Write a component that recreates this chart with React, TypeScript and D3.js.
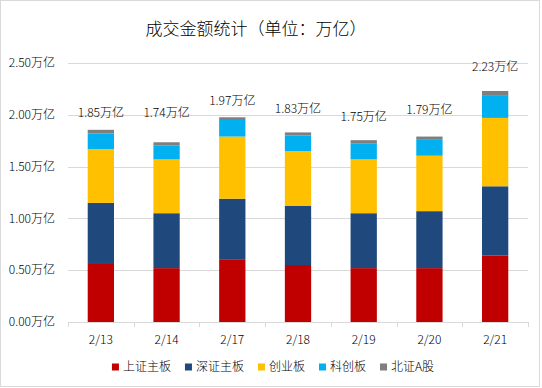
// @ts-nocheck
import React, { useRef, useEffect } from 'react';
import * as d3 from 'd3';

const dates = ["2/13", "2/14", "2/17", "2/18", "2/19", "2/20", "2/21"];
const seriesNames = ["上证主板", "深证主板", "创业板", "科创板", "北证A股"];
const shMain = [0.56, 0.52, 0.60, 0.55, 0.52, 0.52, 0.64];
const szMain = [0.59, 0.53, 0.59, 0.57, 0.53, 0.55, 0.67];
const chinext = [0.52, 0.52, 0.60, 0.53, 0.52, 0.535, 0.66];
const star = [0.15, 0.135, 0.16, 0.15, 0.155, 0.16, 0.22];
const bse = [0.035, 0.03, 0.026, 0.03, 0.03, 0.025, 0.04];
const totals = ["1.85", "1.74", "1.97", "1.83", "1.75", "1.79", "2.23"];
const yTicks = [0, 0.5, 1.0, 1.5, 2.0, 2.5];

// how far each total label sits above its bar (px), labels were hand placed
const labelLift = [17, 29, 16, 24, 23, 27, 24];

const colors = ["#C00000", "#1F497D", "#FFC000", "#00B0F0", "#7F7F7F"];
const FONT = '"Noto Sans CJK SC", "Noto Sans", sans-serif';

export default function App() {
    const svgRef = useRef(null);

    useEffect(() => {
        const W = 542, H = 388;
        const margin = { top: 63, right: 14, bottom: 66, left: 68 };
        const width = W - margin.left - margin.right;
        const height = H - margin.top - margin.bottom;

        const root = d3.select(svgRef.current)
            .attr('width', W)
            .attr('height', H);

        root.append('rect')
            .attr('x', 0.5).attr('y', 0.5)
            .attr('width', 539).attr('height', 386)
            .attr('fill', '#fff')
            .attr('stroke', '#D9D9D9');

        root.append('text')
            .attr('x', 256).attr('y', 29)
            .attr('dy', '0.35em')
            .attr('text-anchor', 'middle')
            .style('font-family', FONT)
            .style('font-size', '17px')
            .style('font-weight', 300)
            .attr('fill', '#000')
            .text('成交金额统计（单位：万亿）');

        const svg = root.append('g')
            .attr('transform', `translate(${margin.left},${margin.top})`);

        const x = d3.scaleBand().domain(dates).range([0, width]).paddingInner(0.6).paddingOuter(0.3);
        const xOuter = d3.scaleBand().domain(dates).range([0, width]);
        const y = d3.scaleLinear().domain([0, 2.5]).range([height, 0]);

        // gridlines
        svg.selectAll('.grid')
            .data(yTicks.slice(1))
            .enter().append('line')
            .attr('x1', 0).attr('x2', width)
            .attr('y1', d => Math.round(y(d)) + 0.5)
            .attr('y2', d => Math.round(y(d)) + 0.5)
            .attr('stroke', '#D9D9D9');

        // y labels
        svg.selectAll('.ylab')
            .data(yTicks)
            .enter().append('text')
            .attr('x', -13)
            .attr('y', d => y(d))
            .attr('dy', '0.35em')
            .attr('text-anchor', 'end')
            .style('font-family', FONT)
            .style('font-size', '12px')
            .style('font-weight', 300)
            .attr('fill', '#000')
            .text(d => d.toFixed(2) + '万亿');

        // stacked bars
        const rows = dates.map((d, i) => ({
            date: d, s0: shMain[i], s1: szMain[i], s2: chinext[i], s3: star[i], s4: bse[i]
        }));
        const stack = d3.stack().keys(["s0", "s1", "s2", "s3", "s4"]);
        const layers = stack(rows);

        svg.selectAll('.layer')
            .data(layers)
            .enter().append('g')
            .attr('fill', (d, i) => colors[i])
            .selectAll('rect')
            .data(d => d)
            .enter().append('rect')
            .attr('x', d => x(d.data.date))
            .attr('width', x.bandwidth())
            .attr('y', d => y(d[1]))
            .attr('height', d => y(d[0]) - y(d[1]));

        // axis line + ticks
        svg.append('line')
            .attr('x1', 0).attr('x2', width)
            .attr('y1', height + 0.5).attr('y2', height + 0.5)
            .attr('stroke', '#D9D9D9');
        svg.selectAll('.tick')
            .data(dates.concat(['end']))
            .enter().append('line')
            .attr('x1', (d, i) => Math.round(i * xOuter.step()) + 0.5)
            .attr('x2', (d, i) => Math.round(i * xOuter.step()) + 0.5)
            .attr('y1', height).attr('y2', height + 5)
            .attr('stroke', '#D9D9D9');

        // x labels
        svg.selectAll('.xlab')
            .data(dates)
            .enter().append('text')
            .attr('x', d => xOuter(d) + xOuter.bandwidth() / 2)
            .attr('y', height + 18)
            .attr('dy', '0.35em')
            .attr('text-anchor', 'middle')
            .style('font-family', FONT)
            .style('font-size', '12px')
            .style('font-weight', 300)
            .attr('fill', '#000')
            .text(d => d);

        // total labels
        const top = layers[layers.length - 1];
        svg.selectAll('.total')
            .data(top)
            .enter().append('text')
            .attr('x', d => x(d.data.date) + x.bandwidth() / 2)
            .attr('y', (d, i) => y(d[1]) - labelLift[i])
            .attr('dy', '0.35em')
            .attr('text-anchor', 'middle')
            .style('font-family', FONT)
            .style('font-size', '12px')
            .style('font-weight', 300)
            .attr('fill', '#000')
            .text((d, i) => totals[i] + '万亿');

        // legend
        const legend = root.append('g');
        let lx = 0;
        seriesNames.forEach((name, i) => {
            const g = legend.append('g').attr('transform', `translate(${lx},0)`);
            g.append('rect')
                .attr('x', 0).attr('y', -3.5)
                .attr('width', 7).attr('height', 7)
                .attr('fill', colors[i]);
            const t = g.append('text')
                .attr('x', 11).attr('y', 0)
                .attr('dy', '0.35em')
                .style('font-family', FONT)
                .style('font-size', '12px')
                .style('font-weight', 300)
                .attr('fill', '#000')
                .text(name);
            const tw = t.node().getComputedTextLength();
            lx += 11 + tw + 14;
        });
        const total = lx - 14;
        legend.attr('transform', `translate(${(W - total) / 2 + 2},367)`);

        return () => {
            d3.select(svgRef.current).selectAll('*').remove();
        };
    }, []);

    return (
        <svg ref={svgRef} style={{ position: 'absolute', left: 0, top: 0 }}></svg>
    );
}
